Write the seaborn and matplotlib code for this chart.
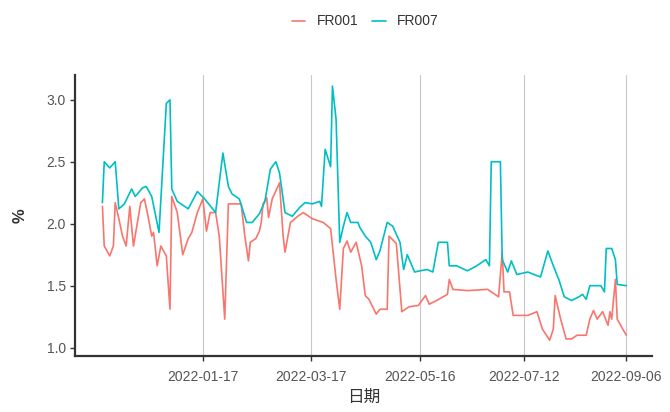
import matplotlib
matplotlib.use("Agg")
import matplotlib.pyplot as plt
import matplotlib.dates as mdates
import seaborn as sns
import pandas as pd

# FR007 series (date, %)
fr007_dates = [
    "2021-11-23", "2021-11-24", "2021-11-27", "2021-11-30", "2021-12-02", "2021-12-05",
    "2021-12-09", "2021-12-11", "2021-12-15", "2021-12-17", "2021-12-20", "2021-12-24",
    "2021-12-28", "2021-12-30", "2021-12-31", "2022-01-03", "2022-01-09", "2022-01-14",
    "2022-01-18", "2022-01-24", "2022-01-28", "2022-01-31", "2022-02-02", "2022-02-06",
    "2022-02-10", "2022-02-13", "2022-02-17", "2022-02-20", "2022-02-23", "2022-02-26",
    "2022-02-28", "2022-03-02", "2022-03-03", "2022-03-07", "2022-03-11", "2022-03-14",
    "2022-03-18", "2022-03-22", "2022-03-23", "2022-03-25", "2022-03-28", "2022-03-29",
    "2022-03-31", "2022-04-02", "2022-04-04", "2022-04-06", "2022-04-08", "2022-04-12",
    "2022-04-13", "2022-04-16", "2022-04-19", "2022-04-22", "2022-04-24", "2022-04-28",
    "2022-05-01", "2022-05-05", "2022-05-07", "2022-05-09", "2022-05-13", "2022-05-16",
    "2022-05-20", "2022-05-23", "2022-05-26", "2022-05-31", "2022-06-01", "2022-06-05",
    "2022-06-11", "2022-06-16", "2022-06-21", "2022-06-23", "2022-06-24", "2022-06-29",
    "2022-06-30", "2022-07-03", "2022-07-05", "2022-07-08", "2022-07-14", "2022-07-21",
    "2022-07-25", "2022-07-28", "2022-07-31", "2022-08-03", "2022-08-07", "2022-08-11",
    "2022-08-13", "2022-08-15", "2022-08-17", "2022-08-23", "2022-08-25", "2022-08-26",
    "2022-08-29", "2022-08-31", "2022-09-01", "2022-09-06",
]
fr007_values = [
    2.17, 2.50, 2.45, 2.50, 2.12, 2.16,
    2.28, 2.22, 2.29, 2.30, 2.22, 1.93,
    2.97, 3.00, 2.28, 2.18, 2.12, 2.26,
    2.20, 2.09, 2.57, 2.30, 2.24, 2.20,
    2.01, 2.01, 2.08, 2.18, 2.44, 2.50,
    2.41, 2.20, 2.09, 2.06, 2.13, 2.17,
    2.16, 2.18, 2.14, 2.60, 2.46, 3.11,
    2.84, 1.85, 1.98, 2.09, 2.01, 2.01,
    1.97, 1.90, 1.85, 1.71, 1.78, 2.01,
    1.98, 1.85, 1.63, 1.75, 1.61, 1.62,
    1.63, 1.61, 1.85, 1.85, 1.66, 1.66,
    1.62, 1.66, 1.71, 1.66, 2.50, 2.50,
    1.71, 1.61, 1.70, 1.59, 1.61, 1.57,
    1.78, 1.66, 1.55, 1.41, 1.38, 1.41,
    1.43, 1.39, 1.50, 1.50, 1.45, 1.80,
    1.80, 1.71, 1.51, 1.50,
]

# FR001 series (date, %)
fr001_dates = [
    "2021-11-23", "2021-11-24", "2021-11-27", "2021-11-29", "2021-11-30", "2021-12-02",
    "2021-12-04", "2021-12-06", "2021-12-08", "2021-12-10", "2021-12-14", "2021-12-16",
    "2021-12-18", "2021-12-20", "2021-12-21", "2021-12-23", "2021-12-25", "2021-12-28",
    "2021-12-30", "2021-12-31", "2022-01-03", "2022-01-06", "2022-01-09", "2022-01-11",
    "2022-01-14", "2022-01-17", "2022-01-19", "2022-01-21", "2022-01-24", "2022-01-26",
    "2022-01-29", "2022-01-31", "2022-02-07", "2022-02-09", "2022-02-11", "2022-02-12",
    "2022-02-15", "2022-02-17", "2022-02-18", "2022-02-19", "2022-02-21", "2022-02-22",
    "2022-02-24", "2022-02-28", "2022-03-02", "2022-03-03", "2022-03-06", "2022-03-10",
    "2022-03-13", "2022-03-18", "2022-03-24", "2022-03-28", "2022-03-31", "2022-04-02",
    "2022-04-04", "2022-04-06", "2022-04-08", "2022-04-11", "2022-04-14", "2022-04-16",
    "2022-04-18", "2022-04-22", "2022-04-24", "2022-04-28", "2022-04-29", "2022-05-03",
    "2022-05-06", "2022-05-10", "2022-05-15", "2022-05-19", "2022-05-21", "2022-05-25",
    "2022-05-31", "2022-06-01", "2022-06-03", "2022-06-11", "2022-06-22", "2022-06-28",
    "2022-06-30", "2022-07-01", "2022-07-04", "2022-07-06", "2022-07-14", "2022-07-19",
    "2022-07-22", "2022-07-26", "2022-07-28", "2022-07-29", "2022-08-01", "2022-08-04",
    "2022-08-07", "2022-08-10", "2022-08-15", "2022-08-17", "2022-08-19", "2022-08-21",
    "2022-08-24", "2022-08-27", "2022-08-28", "2022-08-29", "2022-08-31", "2022-09-01",
    "2022-09-04", "2022-09-06",
]
fr001_values = [
    2.14, 1.82, 1.74, 1.82, 2.17, 2.04,
    1.90, 1.82, 2.14, 1.82, 2.17, 2.20,
    2.06, 1.90, 1.93, 1.66, 1.82, 1.74,
    1.31, 2.22, 2.09, 1.75, 1.88, 1.93,
    2.09, 2.20, 1.94, 2.09, 2.09, 1.90,
    1.23, 2.16, 2.16, 1.90, 1.70, 1.85,
    1.88, 1.94, 2.01, 2.16, 2.21, 2.05,
    2.20, 2.33, 1.90, 1.77, 2.01, 2.06,
    2.09, 2.04, 2.01, 1.96, 1.55, 1.31,
    1.80, 1.86, 1.77, 1.85, 1.66, 1.42,
    1.39, 1.27, 1.31, 1.31, 1.90, 1.84,
    1.29, 1.33, 1.34, 1.42, 1.35, 1.38,
    1.43, 1.55, 1.47, 1.46, 1.47, 1.41,
    1.77, 1.45, 1.45, 1.26, 1.26, 1.29,
    1.15, 1.06, 1.15, 1.42, 1.23, 1.07,
    1.07, 1.10, 1.10, 1.23, 1.30, 1.23,
    1.29, 1.18, 1.29, 1.23, 1.55, 1.23,
    1.15, 1.10,
]

series_names = ["FR001", "FR007"]
series_colors = ["#F8766D", "#00BFC4"]
x_tick_dates = ["2022-01-17", "2022-03-17", "2022-05-16", "2022-07-12", "2022-09-06"]
y_ticks = [1.0, 1.5, 2.0, 2.5, 3.0]

df = pd.concat([
    pd.DataFrame({"日期": pd.to_datetime(fr001_dates), "value": fr001_values, "series": "FR001"}),
    pd.DataFrame({"日期": pd.to_datetime(fr007_dates), "value": fr007_values, "series": "FR007"}),
], ignore_index=True)

sns.set_theme(style="white")
plt.rcParams["font.family"] = ["Liberation Sans", "Noto Sans CJK SC", "DejaVu Sans"]

fig = plt.figure(figsize=(6.7, 4.12), dpi=100)
ax = fig.add_axes([0.112, 0.137, 0.861, 0.681])

tick_dt = pd.to_datetime(x_tick_dates)
for t in tick_dt:
    ax.axvline(t, color="#C8C8C8", lw=0.8, zorder=0)

sns.lineplot(data=df, x="日期", y="value", hue="series", hue_order=series_names,
             palette=dict(zip(series_names, series_colors)), lw=1.2, ax=ax,
             estimator=None, sort=True)

ax.set_xlim(pd.Timestamp("2021-11-08"), pd.Timestamp("2022-09-20"))
ax.set_ylim(0.936, 3.2)
ax.set_xticks(tick_dt)
ax.xaxis.set_major_formatter(mdates.DateFormatter("%Y-%m-%d"))
ax.set_yticks(y_ticks)
ax.set_yticklabels([f"{v:.1f}" for v in y_ticks])

for side in ["top", "right"]:
    ax.spines[side].set_visible(False)
for side in ["left", "bottom"]:
    ax.spines[side].set_color("#333333")
    ax.spines[side].set_linewidth(1.6)

ax.tick_params(axis="both", which="major", length=3.5, width=1.0, color="#333333",
               labelsize=10, labelcolor="#555555", direction="out", bottom=True, left=True)
ax.tick_params(axis="x", pad=7)
ax.tick_params(axis="y", pad=3)

ax.set_xlabel("日期", fontsize=12, color="#333333", labelpad=4)
ax.set_ylabel("%", fontsize=12, color="#333333", fontweight="bold", labelpad=14)

ax.legend_.remove()
handles, labels = ax.get_legend_handles_labels()
leg = fig.legend(handles, labels, loc="center", bbox_to_anchor=(0.545, 0.948), ncol=2,
                 frameon=False, fontsize=10, handlelength=1.0, columnspacing=1.0,
                 handletextpad=0.8)
for txt in leg.get_texts():
    txt.set_color("#333333")

fig.savefig("out.png", dpi=100)
